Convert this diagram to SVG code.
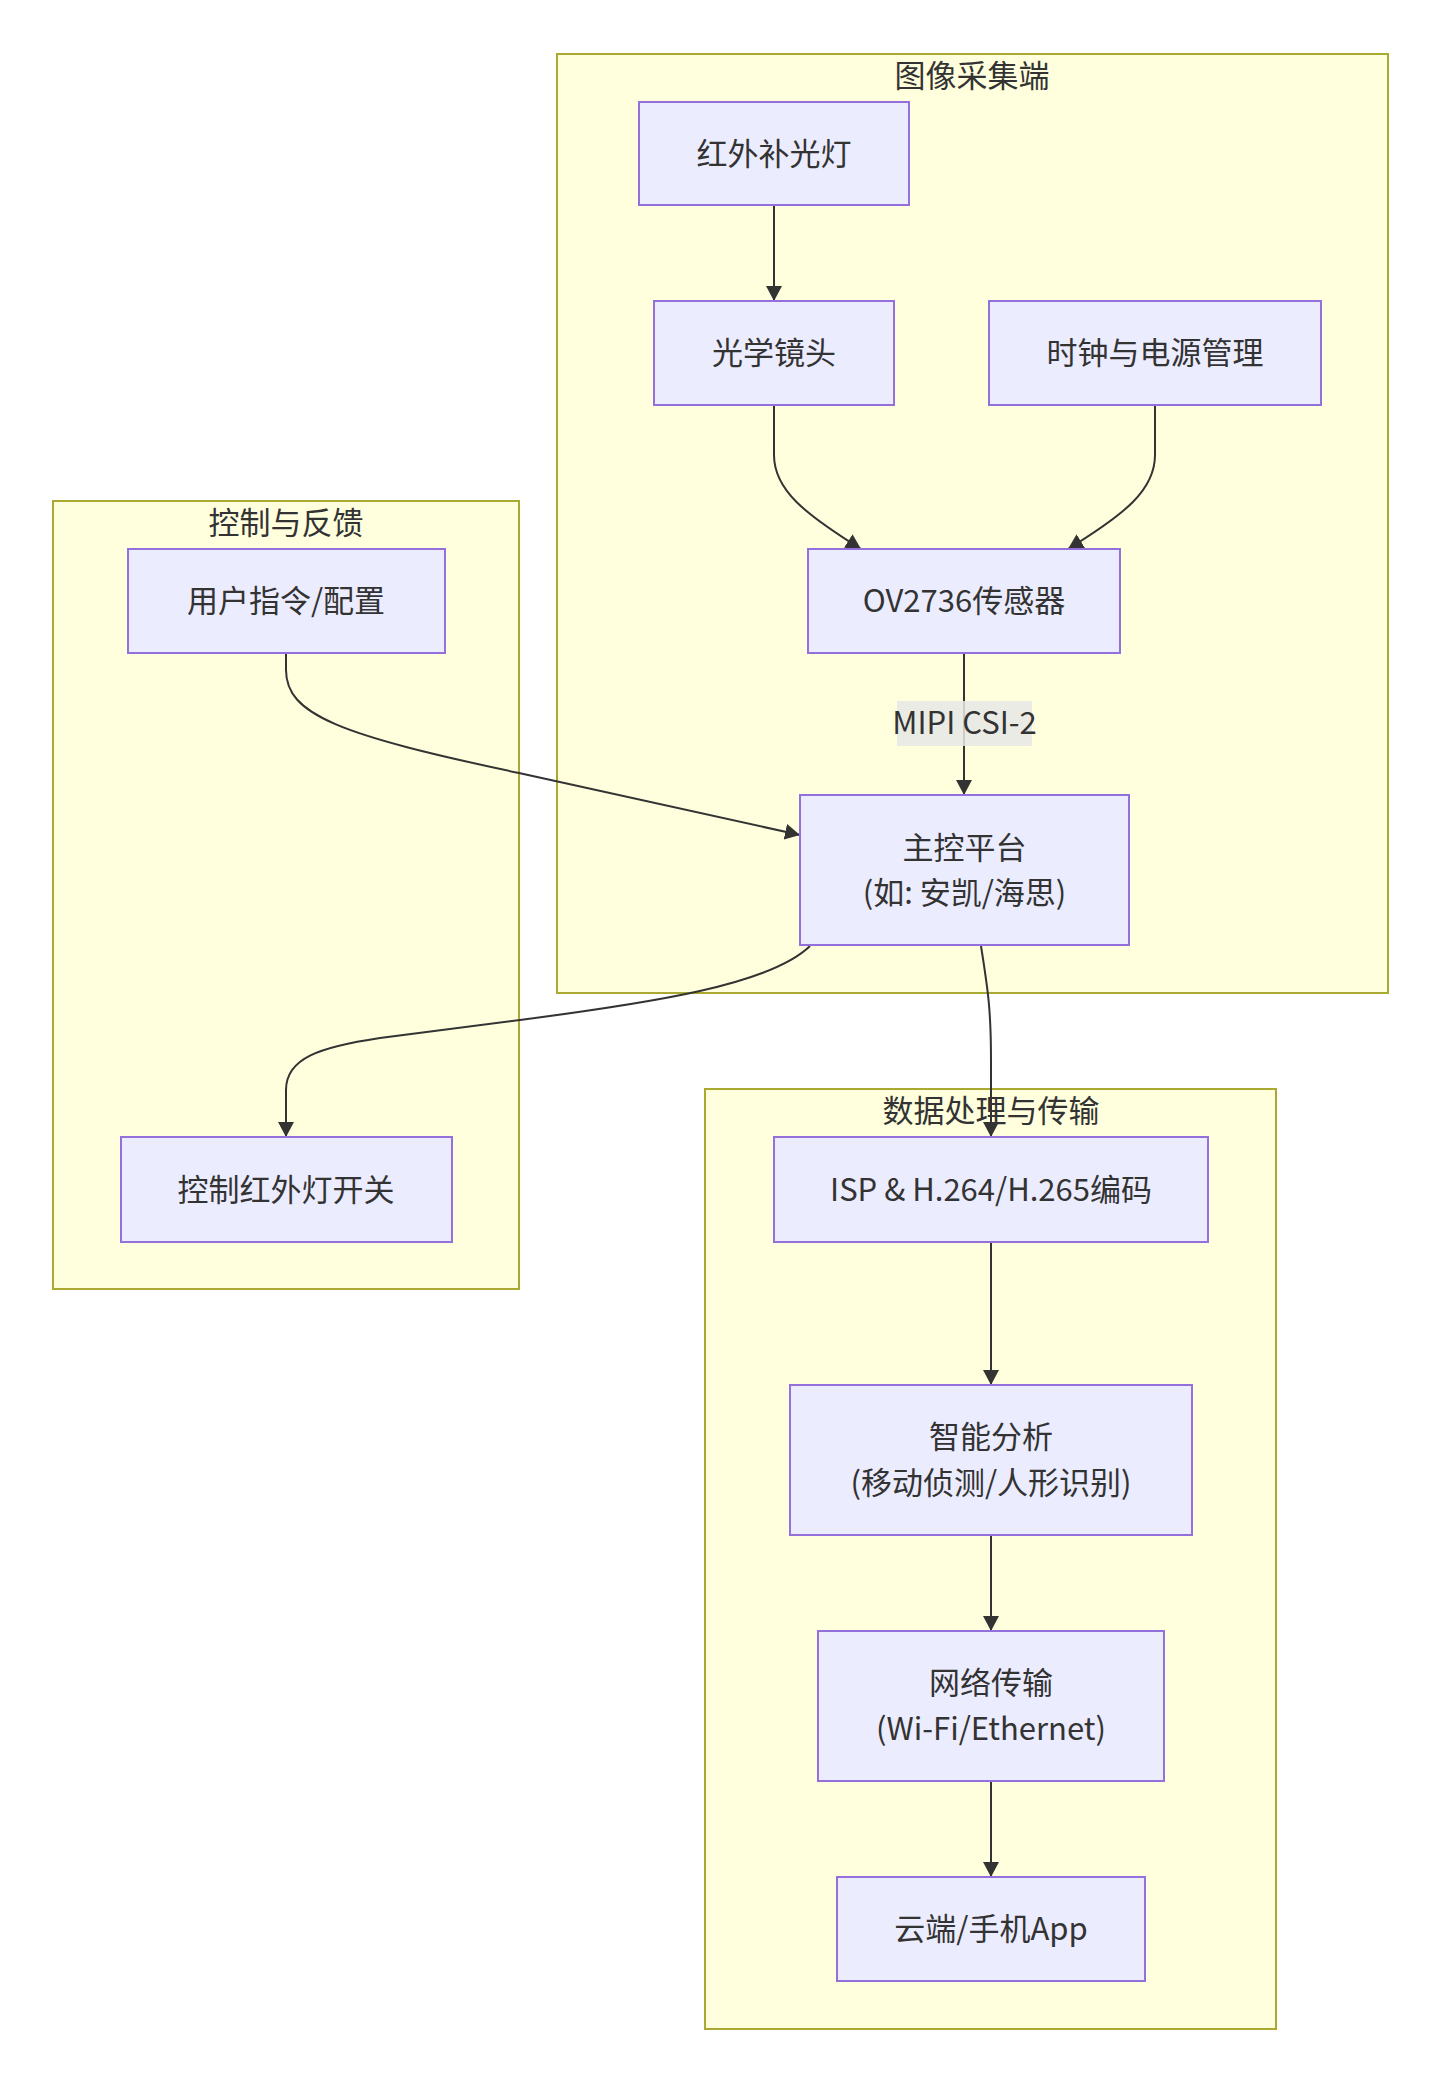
<svg xmlns="http://www.w3.org/2000/svg" width="1440" height="2083" viewBox="0 0 1440 2083">
<style>
text{font-family:"Noto Sans CJK SC","Noto Sans",sans-serif;font-size:31px;fill:#333;text-anchor:middle;dominant-baseline:central}
.cluster rect{fill:#ffffde;stroke:#aaaa33;stroke-width:2}
.node rect{fill:#ececff;stroke:#9370db;stroke-width:2}
.edge{fill:none;stroke:#333;stroke-width:2;marker-end:url(#arrow)}
.elabel{fill:#e8e8e8;opacity:0.85}
</style>
<defs>
<marker id="arrow" markerUnits="userSpaceOnUse" markerWidth="16" markerHeight="16" refX="15" refY="8" orient="auto">
<path d="M0,0 L15,8 L0,16 z" fill="#333"/>
</marker>
</defs>
<rect width="1440" height="2083" fill="#fff"/>
<g id="clusters">
<g id="cluster-capture" class="cluster"><rect x="557" y="54" width="831" height="939"/><text x="972" y="73">图像采集端</text></g>
<g id="cluster-control" class="cluster"><rect x="53" y="501" width="466" height="788"/><text x="286" y="520">控制与反馈</text></g>
<g id="cluster-data" class="cluster"><rect x="705" y="1089" width="571" height="940"/><text x="991" y="1108">数据处理与传输</text></g>
</g>
<g id="edges">
<path class="edge" d="M774,205 L774,301"/>
<path class="edge" d="M774,405 L774,455 C774,490 805,514 861,549"/>
<path class="edge" d="M1155,405 L1155,455 C1155,490 1125,514 1068,549"/>
<path class="edge" d="M964,653 L964,795"/>
<path class="edge" d="M286,653 L286,670 C286,715 340,735 519,773 L800,835"/>
<path class="edge" d="M810,946 C770,985 650,1003 520,1020 L380,1038 C320,1047 286,1058 286,1090 L286,1137"/>
<path class="edge" d="M981,946 C988,990 991,1010 991,1060 L991,1137"/>
<path class="edge" d="M991,1242 L991,1385"/>
<path class="edge" d="M991,1535 L991,1631"/>
<path class="edge" d="M991,1781 L991,1877"/>
</g>
<g id="edge-labels">
<rect class="elabel" x="897" y="701" width="135" height="45"/>
<text x="964.5" y="720.5">MIPI CSI-2</text>
</g>
<g id="n-ir" class="node"><rect x="639" y="102" width="270" height="103"/><text x="774" y="151">红外补光灯</text></g>
<g id="n-lens" class="node"><rect x="654" y="301" width="240" height="104"/><text x="774" y="350.5">光学镜头</text></g>
<g id="n-clock" class="node"><rect x="989" y="301" width="332" height="104"/><text x="1155" y="350.5">时钟与电源管理</text></g>
<g id="n-sensor" class="node"><rect x="808" y="549" width="312" height="104"/><text x="964" y="598.5">OV2736传感器</text></g>
<g id="n-soc" class="node"><rect x="800" y="795" width="329" height="150"/><text x="964.5" y="845.5">主控平台</text><text x="964.5" y="890.5">(如: 安凯/海思)</text></g>
<g id="n-user" class="node"><rect x="128" y="549" width="317" height="104"/><text x="286" y="598.5">用户指令/配置</text></g>
<g id="n-irctl" class="node"><rect x="121" y="1137" width="331" height="105"/><text x="286" y="1187">控制红外灯开关</text></g>
<g id="n-isp" class="node"><rect x="774" y="1137" width="434" height="105"/><text x="991" y="1187">ISP &amp; H.264/H.265编码</text></g>
<g id="n-ai" class="node"><rect x="790" y="1385" width="402" height="150"/><text x="991" y="1434.5">智能分析</text><text x="991" y="1480.5">(移动侦测/人形识别)</text></g>
<g id="n-net" class="node"><rect x="818" y="1631" width="346" height="150"/><text x="991" y="1680.5">网络传输</text><text x="991" y="1726.5">(Wi-Fi/Ethernet)</text></g>
<g id="n-cloud" class="node"><rect x="837" y="1877" width="308" height="104"/><text x="991" y="1926.5">云端/手机App</text></g>
</svg>
